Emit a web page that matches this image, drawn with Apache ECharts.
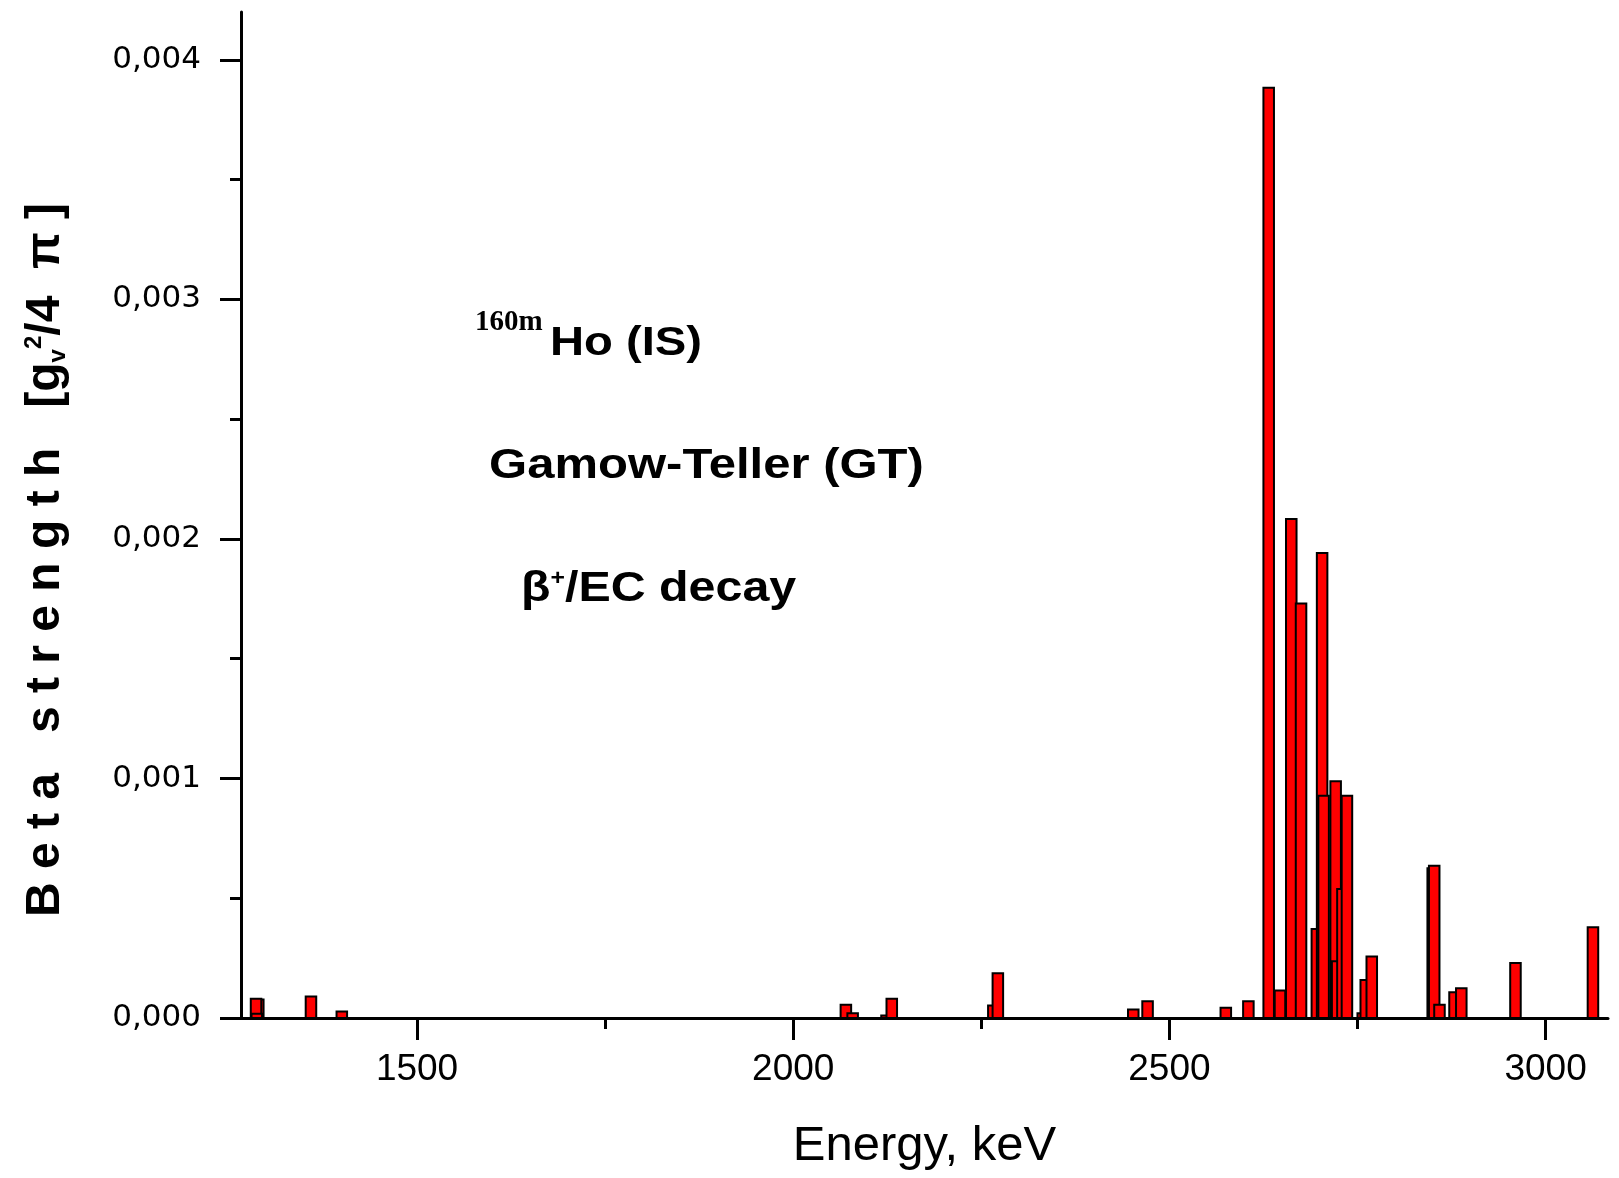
<!DOCTYPE html>
<html><head><meta charset="utf-8">
<script src="https://cdn.jsdelivr.net/npm/echarts@6/dist/echarts.min.js"></script>
<style>html,body{margin:0;padding:0;background:#fff}#c{width:1619px;height:1178px}</style>
</head><body><div id="c"></div>
<script>
// Energy levels (keV) in drawing order
const energies = [1289, 1286, 1287, 1359, 1400, 2070, 2079, 2124, 2131, 2266, 2272, 2452, 2471, 2575, 2605,
  2632, 2647, 2662, 2675, 2696, 2703, 2705, 2721, 2723, 2730, 2736, 2757, 2761, 2769,
  2850, 2852, 2859, 2879, 2888, 2960, 3063];
// Beta strength [gv^2/4pi]
const strengths = [0.000077, 0.000080, 0.000018, 0.000090, 0.000027, 0.000055, 0.000020, 0.000010, 0.000080,
  0.000052, 0.000187, 0.000035, 0.000070, 0.000043, 0.000070,
  0.003884, 0.000115, 0.002083, 0.001731, 0.000372, 0.001941, 0.000928, 0.000988, 0.000237, 0.000539, 0.000928,
  0.000020, 0.000159, 0.000257,
  0.000625, 0.000636, 0.000055, 0.000108, 0.000124, 0.000230, 0.000379];
const xTickLabels = [1500, 2000, 2500, 3000];
const xMinorTicks = [1750, 2250, 2750];
const yTickValues = [0, 0.001, 0.002, 0.003, 0.004];
const yMinorTicks = [0.0005, 0.0015, 0.0025, 0.0035];

const BAR_W = 14; // keV
const data = energies.map((e, i) => [e, strengths[i]]);

const chart = echarts.init(document.getElementById('c'), null, {renderer: 'canvas'});
const axisCommon = {
  splitLine: {show: false},
};
chart.setOption({
  backgroundColor: '#ffffff',
  animation: false,
  grid: {left: 241, right: 11, top: 12, bottom: 160, containLabel: false},
  xAxis: [
    Object.assign({}, axisCommon, {
      type: 'value', min: 1266, max: 3083, position: 'bottom',
      axisLine: {show: true, onZero: false, lineStyle: {color: '#000', width: 3}},
      axisTick: {show: true, customValues: xTickLabels, length: 22, lineStyle: {color: '#000', width: 3}},
      axisLabel: {show: true, customValues: xTickLabels, margin: 33, color: '#000',
        fontFamily: '"Liberation Sans", Arial', fontSize: 37, formatter: v => String(v)},
      name: 'Energy, keV', nameLocation: 'middle', nameGap: 104,
      nameTextStyle: {color: '#000', fontFamily: '"Liberation Sans", Arial', fontSize: 49}
    }),
    Object.assign({}, axisCommon, {
      type: 'value', min: 1266, max: 3083, position: 'bottom',
      axisLine: {show: false},
      axisTick: {show: true, customValues: xMinorTicks, length: 11, lineStyle: {color: '#000', width: 3}},
      axisLabel: {show: false}
    })
  ],
  yAxis: [
    Object.assign({}, axisCommon, {
      type: 'value', min: 0, max: 0.0042, position: 'left',
      axisLine: {show: true, onZero: false, lineStyle: {color: '#000', width: 3}},
      axisTick: {show: true, customValues: yTickValues, length: 21, lineStyle: {color: '#000', width: 3}},
      axisLabel: {show: true, customValues: yTickValues, margin: 40, color: '#000',
        fontFamily: '"DejaVu Sans"', fontSize: 31,
        formatter: v => v.toFixed(3).replace('.', ',')}
    }),
    Object.assign({}, axisCommon, {
      type: 'value', min: 0, max: 0.0042, position: 'left',
      axisLine: {show: false},
      axisTick: {show: true, customValues: yMinorTicks, length: 11, lineStyle: {color: '#000', width: 3}},
      axisLabel: {show: false}
    })
  ],
  series: [{
    type: 'custom',
    xAxisIndex: 0, yAxisIndex: 0,
    clip: true,
    data: data,
    renderItem: function (params, api) {
      const x = api.value(0), y = api.value(1);
      const p0 = api.coord([x - BAR_W / 2, y]);
      const p1 = api.coord([x + BAR_W / 2, 0]);
      return {
        type: 'rect',
        shape: {x: p0[0], y: p0[1], width: p1[0] - p0[0], height: p1[1] - p0[1]},
        style: {fill: '#ff0000', stroke: '#000000', lineWidth: 2}
      };
    }
  }],
  graphic: [
    {type: 'text', x: 475, y: 323, style: {text: '160m', font: 'bold 29px "Liberation Serif"', fill: '#000', align: 'left', verticalAlign: 'middle'}},
    {type: 'text', x: 550, y: 344, scaleX: 1.18, style: {text: 'Ho (IS)', font: 'bold 40px "Liberation Sans"', fill: '#000', align: 'left', verticalAlign: 'middle'}},
    {type: 'text', x: 489, y: 466, scaleX: 1.14, style: {text: 'Gamow-Teller (GT)', font: 'bold 43px "Liberation Sans"', fill: '#000', align: 'left', verticalAlign: 'middle'}},
    {type: 'text', x: 521, y: 589, scaleX: 1.125, style: {
      text: '{a|β}{s|+}{a|/EC decay}', align: 'left', verticalAlign: 'middle',
      rich: {
        a: {fontFamily: '"Liberation Sans"', fontWeight: 'bold', fontSize: 43, fill: '#000', color: '#000'},
        s: {fontFamily: '"Liberation Sans"', fontWeight: 'bold', fontSize: 22, fill: '#000', color: '#000', verticalAlign: 'top'}
      }}},
    {type: 'text', x: 46, y: 560, rotation: Math.PI / 2, style: {
      text: '{b|B e t a   s t r e n g t h   [g}{sub|v}{sup|2}{b|/4  π ]}', align: 'center', verticalAlign: 'middle',
      rich: {
        b: {fontFamily: '"Liberation Sans"', fontWeight: 'bold', fontSize: 48, color: '#000', fill: '#000'},
        sub: {fontFamily: '"Liberation Sans"', fontWeight: 'bold', fontSize: 24, color: '#000', fill: '#000', verticalAlign: 'bottom'},
        sup: {fontFamily: '"Liberation Sans"', fontWeight: 'bold', fontSize: 24, color: '#000', fill: '#000', verticalAlign: 'top'}
      }}}
  ]
});
</script>
</body></html>
